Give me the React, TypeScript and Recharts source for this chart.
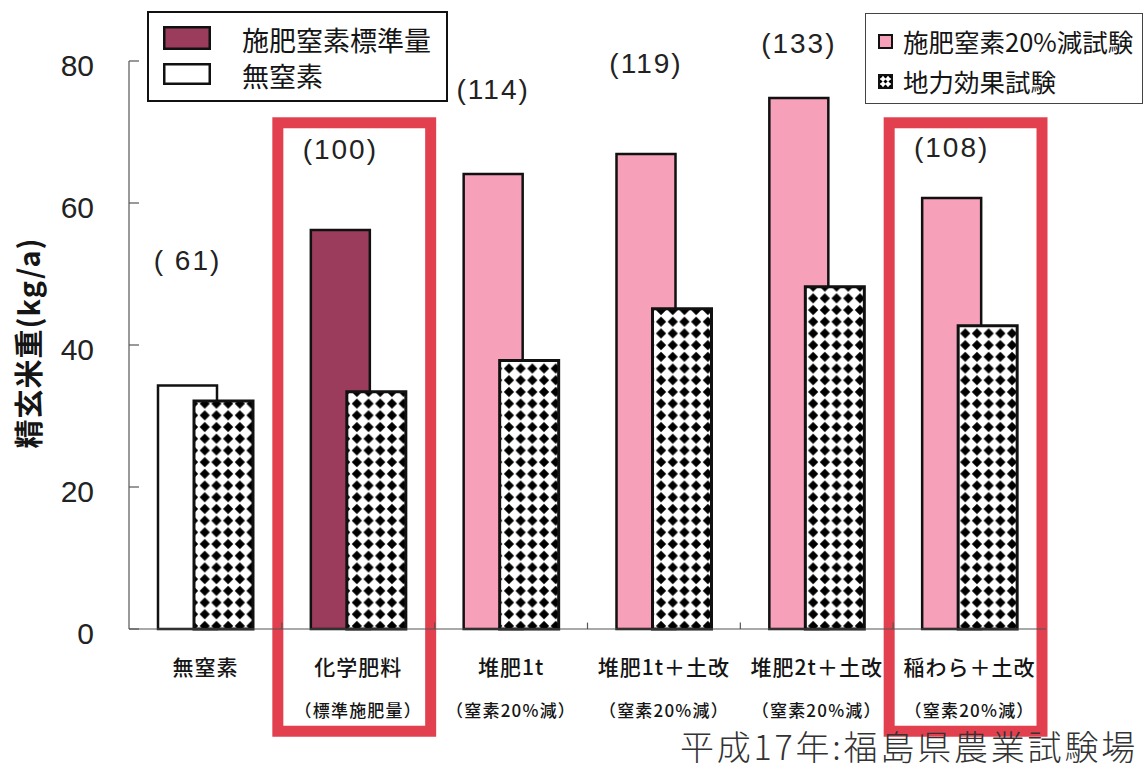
import React from 'react';
import {
  BarChart,
  Bar,
  XAxis,
  YAxis,
  Cell,
  LabelList,
  Legend,
  ReferenceArea,
  ReferenceLine,
} from 'recharts';

const categories = ['無窒素', '化学肥料', '堆肥1t', '堆肥1t＋土改', '堆肥2t＋土改', '稲わら＋土改'];
const subLabels = ['', '（標準施肥量）', '（窒素20%減）', '（窒素20%減）', '（窒素20%減）', '（窒素20%減）'];
// 精玄米重 kg/a
const fertilized = [34.3, 56.2, 64.1, 66.9, 74.8, 60.7];
const soilOnly = [32.1, 33.4, 37.8, 45.1, 48.2, 42.7];
// 化学肥料 = 100
const indexValues = [61, 100, 114, 119, 133, 108];
const treatment = ['none', 'standard', 'reduced', 'reduced', 'reduced', 'reduced'];
const highlighted = ['化学肥料', '稲わら＋土改'];
const yTicks = [0, 20, 40, 60, 80];

const legendLeft = [
  { key: 'standard', label: '施肥窒素標準量' },
  { key: 'none', label: '無窒素' },
];
const legendRight = [
  { key: 'reduced', label: '施肥窒素20%減試験' },
  { key: 'soil', label: '地力効果試験' },
];

const CJK = '"Noto Sans CJK JP", "Noto Sans", sans-serif';
const LATIN = '"Liberation Sans", Arial, sans-serif';

const COLORS: Record<string, string> = {
  none: '#ffffff',
  standard: '#9b3c5c',
  reduced: '#f6a0ba',
};
const RED = '#e2404f';

// how far above the first bar each index label sits (px)
const labelLift = [125, 80, 84, 91, 54, 51];
// red highlight frame, in axis units
const frameTop = 71.3;
const frameBottom = -14.4;

const data = categories.map((name, i) => ({
  name,
  fertilized: fertilized[i],
  soil: soilOnly[i],
  index: indexValues[i],
  treatment: treatment[i],
}));

const CategoryTick = (props: any) => {
  const { x, y, payload } = props;
  const i = categories.indexOf(payload.value);
  return (
    <g>
      <text x={x} y={y + 37} textAnchor="middle" dominantBaseline="central"
        fontFamily={CJK} fontSize={21} fontWeight={500} fill="#151515" letterSpacing={1}>
        {payload.value}
      </text>
      {subLabels[i] && (
        <text x={x} y={y + 80} textAnchor="middle" dominantBaseline="central"
          fontFamily={CJK} fontSize={17} fontWeight={500} fill="#151515" letterSpacing={1.2}>
          {subLabels[i]}
        </text>
      )}
    </g>
  );
};

const ValueTick = (props: any) => {
  const { x, y, payload } = props;
  return (
    <text x={x} y={y + 4} textAnchor="end" dominantBaseline="central"
      fontFamily={LATIN} fontSize={30} fill="#222">
      {payload.value}
    </text>
  );
};

const IndexLabel = (props: any) => {
  const { x, y, width, index, value } = props;
  const cx = Number(x) + Number(width) / 2;
  const cy = Number(y) - labelLift[index];
  return (
    <text x={cx} y={cy} textAnchor="middle" dominantBaseline="central"
      fontFamily={LATIN} fontSize={28} fill="#222" letterSpacing={2}
      style={{ whiteSpace: 'pre' }}>
      {`(${String(value).padStart(3, ' ')})`}
    </text>
  );
};

const Frame = (props: any) => {
  const { x, y, width, height } = props;
  return (
    <rect x={x - 4} y={y} width={width} height={height}
      fill="none" stroke={RED} strokeWidth={11} />
  );
};

const Swatch = ({ kind, w, h, sw }: { kind: string; w: number; h: number; sw: number }) => (
  <svg width={w} height={h} style={{ display: 'block' }}>
    <defs>
      <pattern id="diamond-sw" width={5} height={5} patternUnits="userSpaceOnUse">
        <rect width={5} height={5} fill="#fff" />
        <path d="M2.5 0.4 L4.6 2.5 L2.5 4.6 L0.4 2.5 Z" fill="#000" />
      </pattern>
    </defs>
    <rect x={sw / 2} y={sw / 2} width={w - sw} height={h - sw}
      fill={kind === 'soil' ? 'url(#diamond-sw)' : COLORS[kind]}
      stroke="#111" strokeWidth={sw} />
  </svg>
);

const LegendBoxes = () => (
  <div style={{ position: 'relative', width: 1144, height: 771, fontFamily: CJK, color: '#151515' }}>
    <div style={{
      position: 'absolute', left: 147, top: 11, width: 301, height: 91,
      border: '2px solid #111', boxSizing: 'border-box',
    }}>
      {legendLeft.map((item, i) => (
        <React.Fragment key={item.key}>
          <div style={{ position: 'absolute', left: 14, top: i === 0 ? 13 : 50 }}>
            <Swatch kind={item.key} w={48} h={i === 0 ? 24 : 22} sw={2.5} />
          </div>
          <div style={{
            position: 'absolute', left: 93, top: (i === 0 ? 27 : 63) - 17,
            fontSize: 27, lineHeight: '34px', whiteSpace: 'nowrap',
          }}>
            {item.label}
          </div>
        </React.Fragment>
      ))}
    </div>
    <div style={{
      position: 'absolute', left: 865, top: 13, width: 278, height: 91,
      border: '1px solid #444', boxSizing: 'border-box',
    }}>
      {legendRight.map((item, i) => (
        <React.Fragment key={item.key}>
          <div style={{ position: 'absolute', left: 12, top: i === 0 ? 20 : 60 }}>
            <Swatch kind={item.key} w={15} h={15} sw={2} />
          </div>
          <div style={{
            position: 'absolute', left: 37, top: (i === 0 ? 27 : 67) - 16,
            fontSize: 25.5, lineHeight: '32px', whiteSpace: 'nowrap',
          }}>
            {item.label}
          </div>
        </React.Fragment>
      ))}
    </div>
  </div>
);

const YLabel = (props: any) => {
  const { viewBox } = props;
  const cx = viewBox.x + 27;
  const cy = viewBox.y + viewBox.height / 2 - 2;
  return (
    <text x={cx} y={cy} transform={`rotate(-90 ${cx} ${cy})`} textAnchor="middle"
      dominantBaseline="central" fontFamily={CJK} fontSize={29} fontWeight={700}
      fill="#151515" letterSpacing={1}>
      精玄米重(kg/a)
    </text>
  );
};

export default function App() {
  return (
    <div style={{ position: 'absolute', left: 0, top: 0, width: 1144, height: 771, background: '#fff' }}>
      <BarChart
        width={1144}
        height={771}
        data={data}
        margin={{ top: 61, right: 98, bottom: 0, left: 0 }}
        barSize={59}
        barGap={-23}
      >
        <defs>
          <pattern id="diamond" width={11.7} height={11.7} patternUnits="userSpaceOnUse">
            <rect width={11.7} height={11.7} fill="#fff" />
            <path d="M5.85 0.75 L10.95 5.85 L5.85 10.95 L0.75 5.85 Z" fill="#000" />
          </pattern>
        </defs>
        <XAxis
          dataKey="name"
          height={142}
          interval={0}
          tickLine={false}
          tickSize={0}
          tickMargin={0}
          axisLine={{ stroke: '#555', strokeWidth: 1.2 }}
          tick={CategoryTick}
        />
        <YAxis
          width={129}
          domain={[0, 80]}
          ticks={yTicks}
          tickSize={-10}
          tickMargin={45}
          tickLine={{ stroke: '#555', strokeWidth: 1.2 }}
          axisLine={{ stroke: '#555', strokeWidth: 1.2 }}
          tick={ValueTick}
          label={{ content: YLabel }}
        />
        {categories.slice(1).map((c) => (
          <ReferenceLine
            key={`sep-${c}`}
            segment={[{ x: c, y: 0 }, { x: c, y: 0.9 }]}
            position="start"
            stroke="#555"
            strokeWidth={1.2}
            ifOverflow="visible"
          />
        ))}
        <Bar dataKey="fertilized" stroke="#111" strokeWidth={2.5} isAnimationActive={false}>
          {data.map((d) => (
            <Cell key={d.name} fill={COLORS[d.treatment]} />
          ))}
          <LabelList dataKey="index" content={IndexLabel} />
        </Bar>
        <Bar dataKey="soil" fill="url(#diamond)" stroke="#111" strokeWidth={3} isAnimationActive={false} />
        {highlighted.map((c) => (
          <ReferenceArea
            key={`frame-${c}`}
            x1={c}
            x2={c}
            y1={frameBottom}
            y2={frameTop}
            ifOverflow="visible"
            shape={Frame}
          />
        ))}
        <Legend
          layout="vertical"
          verticalAlign="middle"
          align="center"
          content={LegendBoxes}
          wrapperStyle={{ left: 0, top: 0, width: 1144, height: 771, pointerEvents: 'none' }}
        />
      </BarChart>
      <div style={{
        position: 'absolute', right: 6, top: 729, fontFamily: CJK, fontSize: 34,
        lineHeight: '34px', color: '#333', fontWeight: 300, whiteSpace: 'nowrap',
        letterSpacing: 2.8,
      }}>
        平成17年:福島県農業試験場
      </div>
    </div>
  );
}
